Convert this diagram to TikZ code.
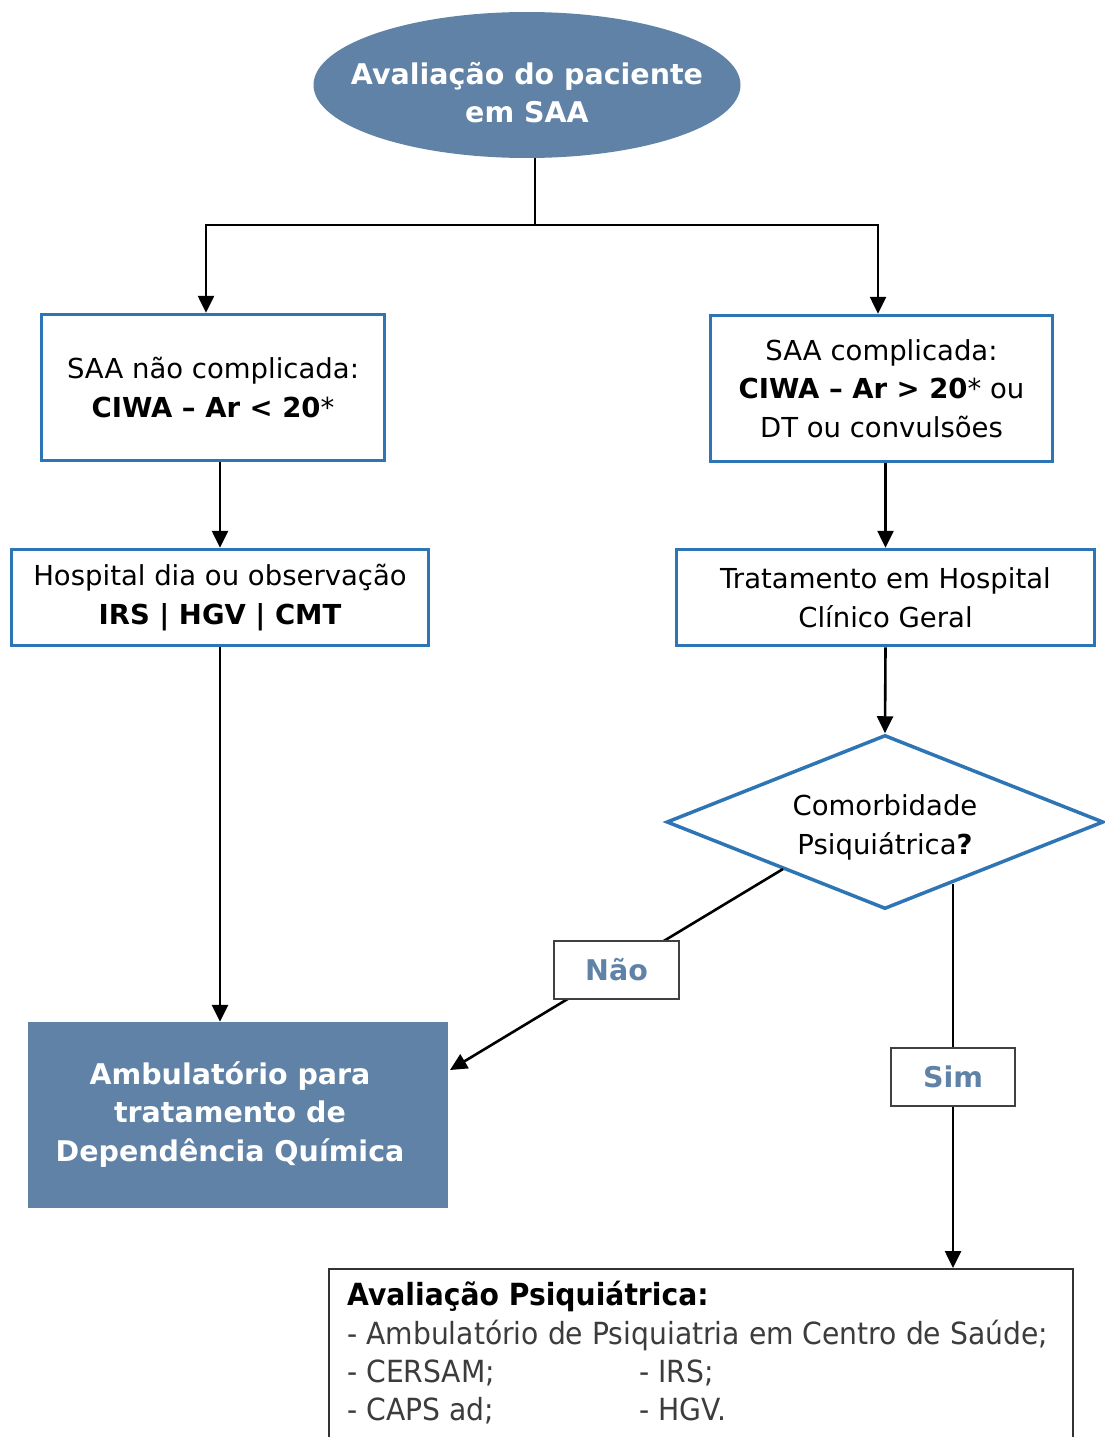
\documentclass[tikz,border=0pt]{standalone}
\usepackage{fontspec}
\setmainfont{DejaVu Sans}
\newfontfamily\narrowfont[FakeStretch=0.925]{DejaVu Sans}
\usetikzlibrary{shapes.geometric,arrows.meta}
\definecolor{fillblue}{RGB}{95,130,166}
\definecolor{boxblue}{RGB}{46,117,182}
\definecolor{txtgray}{RGB}{60,60,60}
\newcommand{\fsz}{\fontsize{27.5}{38.5}\selectfont}
\newcommand{\fszb}{\fontsize{28.5}{38.5}\selectfont}
\newcommand{\fszl}{\fontsize{30.5}{38.5}\selectfont}
\newcommand{\ctab}[1]{\begin{tabular}{@{}c@{}}#1\end{tabular}}
\tikzset{
  boxnode/.style={draw=boxblue, line width=3.5pt, fill=white, inner sep=0pt, align=center, font=\fsz},
  filled/.style={fill=fillblue, inner sep=0pt, align=center, text=white, font=\fszb\bfseries},
  arr/.style={line width=2.6pt, -{Triangle[length=17pt,width=16pt]}},
  conn/.style={line width=2.6pt},
  tagnode/.style={draw=black!75, line width=2pt, fill=white, inner sep=0pt, text=fillblue, font=\fszb\bfseries},
  listtxt/.style={anchor=base west, inner sep=0pt, font=\fszl\narrowfont, text=txtgray}
}
\begin{document}
\begin{tikzpicture}[x=1pt,y=-1pt]
\useasboundingbox (0,0) rectangle (1105,1437);
\clip (0,0) rectangle (1105,1437);
\node[filled, ellipse, minimum width=427pt, minimum height=146pt] (top) at (527,85) {\makebox[0pt]{\raisebox{-17pt}[0pt][0pt]{\ctab{Avaliação do paciente\\em SAA}}}};
\node[boxnode, minimum width=343pt, minimum height=146pt] (b1) at (213,387.5) {SAA não complicada:\\\textbf{CIWA – Ar < 20}*};
\node[boxnode, minimum width=417pt, minimum height=96pt] (b2) at (220,597.5) {Hospital dia ou observação\\\textbf{IRS | HGV | CMT}};
\node[boxnode, minimum width=342pt, minimum height=146pt] (b3) at (881.5,388.5) {SAA complicada:\\\textbf{CIWA – Ar > 20}* ou\\DT ou convulsões};
\node[boxnode, minimum width=418pt, minimum height=96pt] (b4) at (885.5,597.5) {Tratamento em Hospital\\Clínico Geral};
\node[filled, minimum width=420pt, minimum height=186pt] (amb) at (238,1115) {\makebox[0pt]{\kern-16pt\ctab{Ambulatório para\\tratamento de\\Dependência Química}}};
\node[boxnode, diamond, aspect=2.486, minimum width=437pt, minimum height=174pt] (dia) at (885,822) {\raisebox{-11.4pt}[0pt][0pt]{\ctab{Comorbidade\\Psiquiátrica\textbf{?}}}};
\node[draw=black!80, line width=2pt, fill=white, minimum width=744pt, minimum height=230pt, anchor=north west] (bot) at (328,1268) {};
\node[anchor=base west, inner sep=0pt, font=\fszl\narrowfont\bfseries] (l1) at (347,1305) {Avaliação Psiquiátrica:};
\node[listtxt] (l2) at (347,1344) {- Ambulatório de Psiquiatria em Centro de Saúde;};
\node[listtxt] (l3) at (347,1382) {- CERSAM;};
\node[listtxt] (l3b) at (639,1382) {- IRS;};
\node[listtxt] (l4) at (347,1420) {- CAPS ad;};
\node[listtxt] (l4b) at (639,1420) {- HGV.};
% connectors
\coordinate (j) at (535,225);
\coordinate (lt) at (206,225);
\coordinate (rt) at (878,225);
\draw[conn] (top.south -| j) -- (j);
\draw[conn, line cap=rect] (lt) -- (rt);
\draw[arr] (lt) -- (lt |- b1.north);
\draw[arr] (rt) -- (rt |- b3.north);
\draw[arr] (b1.south -| b2.north) -- (b2.north);
\draw[arr] (b2.south) -- (b2.south |- amb.north);
\draw[arr] (b3.south -| b4.north) -- (b4.north);
\draw[arr] (b4.south) -- (dia.north);
\coordinate (nstart) at (783,869);
\coordinate (nend) at (450,1070);
\draw[arr] (nstart) -- node[tagnode, minimum width=125pt, minimum height=58pt, pos=0.5] (nao) {Não} (nend);
\coordinate (sstart) at (953,884);
\draw[arr] (sstart) -- node[tagnode, minimum width=124pt, minimum height=58pt, pos=0.503] (sim) {Sim} (sstart |- bot.north);
\end{tikzpicture}
\end{document}
